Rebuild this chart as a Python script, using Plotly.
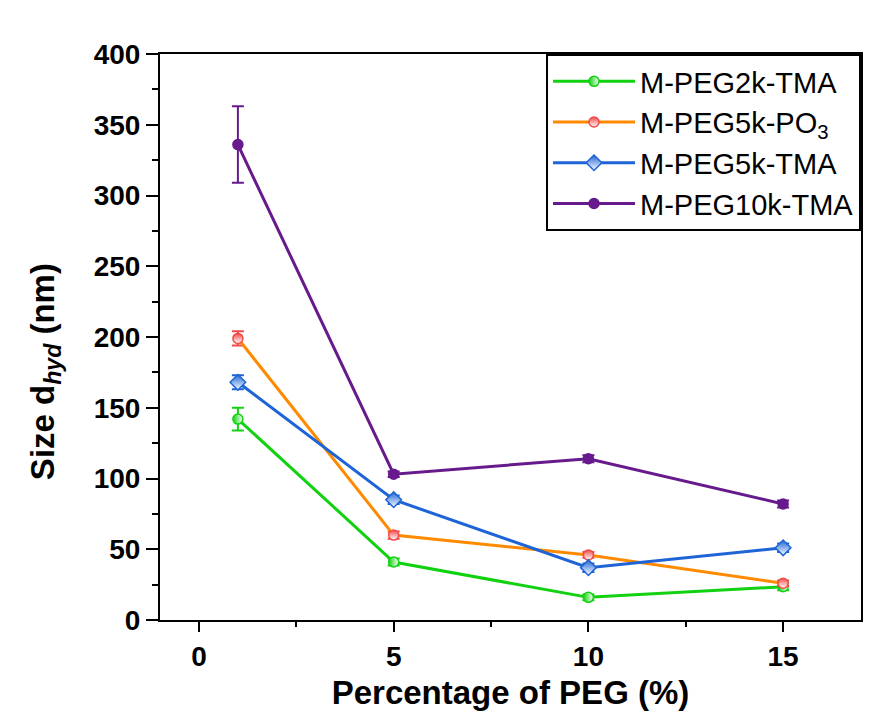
import plotly.graph_objects as go

peg_pct = [1, 5, 10, 15]

names = ["M-PEG2k-TMA", "M-PEG5k-PO<sub>3</sub>", "M-PEG5k-TMA", "M-PEG10k-TMA"]
size_peg2k_tma = [142, 41, 16, 23.5]
err_peg2k_tma = [8, 2.5, 2, 2.5]
size_peg5k_po3 = [199, 60, 46, 26]
err_peg5k_po3 = [5, 2.5, 2, 2]
size_peg5k_tma = [168, 85, 37, 51]
err_peg5k_tma = [5, 3, 3, 3]
size_peg10k_tma = [336, 103, 114, 82]
err_peg10k_tma = [27, 2, 2.5, 2.5]

y_ticks = [0, 50, 100, 150, 200, 250, 300, 350, 400]
x_ticks = [0, 5, 10, 15]

series = [
    (names[0], size_peg2k_tma, err_peg2k_tma, "#11d111", "#11d111", "circle", "horizontal"),
    (names[1], size_peg5k_po3, err_peg5k_po3, "#ff8a00", "#f24a4a", "circle", "vertical"),
    (names[2], size_peg5k_tma, err_peg5k_tma, "#1e64d6", "#1e64d6", "diamond", "vertical"),
    (names[3], size_peg10k_tma, err_peg10k_tma, "#661a8c", "#661a8c", "circle", None),
]

fig = go.Figure()
for name, vals, errs, lc, mc, sym, grad in series:
    marker = dict(symbol=sym, size=10 if sym == "circle" else 12, color=mc,
                  line=dict(color=mc, width=1.5))
    if grad:
        marker["gradient"] = dict(type=grad, color="white")
    fig.add_trace(go.Scatter(
        x=peg_pct, y=vals, name=name, mode="lines+markers",
        line=dict(color=lc, width=3),
        marker=marker,
        error_y=dict(type="data", array=errs, visible=True, color=mc,
                     thickness=2, width=6),
    ))

FONT = "Liberation Sans, Arial, sans-serif"

fig.add_annotation(
    text="Size d<sub><i>hyd</i></sub> (nm)", textangle=-90,
    xref="paper", yref="paper", x=-0.164, y=0.438,
    xanchor="center", yanchor="middle", showarrow=False,
    font=dict(family=FONT, size=33, color="black", weight="bold"),
)

fig.update_layout(
    width=864, height=709,
    margin=dict(l=152, r=9, t=46, b=97),
    paper_bgcolor="white", plot_bgcolor="white",
    showlegend=True,
    legend=dict(x=1, y=1, xanchor="right", yanchor="top",
                bordercolor="black", borderwidth=2, bgcolor="white",
                font=dict(family=FONT, size=29, color="black"),
                itemwidth=82),
    xaxis=dict(range=[-1, 17], tickvals=x_ticks, ticktext=[str(v) for v in x_ticks],
               showline=True, linecolor="black", linewidth=2, mirror=True,
               ticks="outside", ticklen=10, tickwidth=2, tickcolor="black",
               minor=dict(ticks="outside", dtick=2.5, tick0=0, ticklen=5, tickwidth=2, tickcolor="black"),
               showgrid=False, zeroline=False,
               tickfont=dict(family=FONT, size=28, color="black", weight="bold"),
               title=dict(text="Percentage of PEG (%)", standoff=10,
                          font=dict(family=FONT, size=33, color="black", weight="bold"))),
    yaxis=dict(range=[0, 400], tickvals=y_ticks,
               showline=True, linecolor="black", linewidth=2, mirror=True,
               ticks="outside", ticklen=12, tickwidth=2, tickcolor="black",
               minor=dict(ticks="outside", dtick=25, tick0=0, ticklen=6, tickwidth=2, tickcolor="black"),
               showgrid=False, zeroline=False,
               tickfont=dict(family=FONT, size=28, color="black", weight="bold")),
)

fig.write_html("out.html")
